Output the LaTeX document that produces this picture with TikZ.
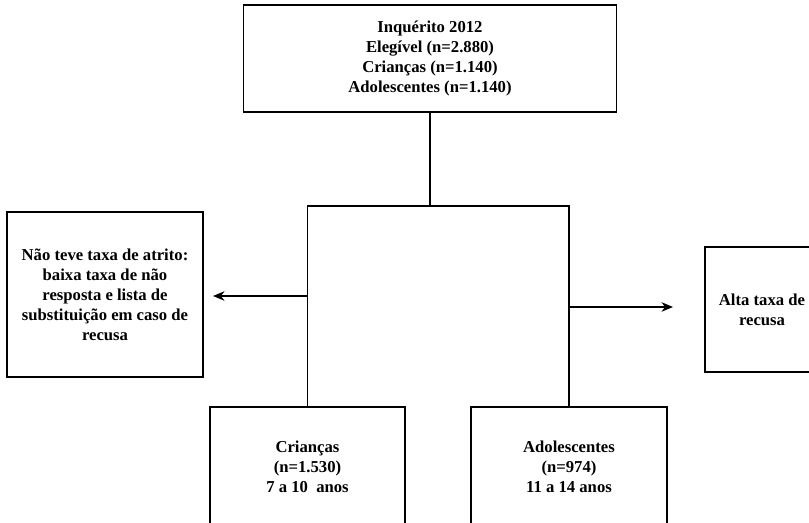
\documentclass[tikz,border=0pt]{standalone}
\usepackage{fontspec}
\setmainfont{Liberation Serif}
\usepackage{tikz}
\usetikzlibrary{arrows.meta}

\begin{document}
\begin{tikzpicture}[x=0.75pt,y=-0.75pt]
            \useasboundingbox[fill=white] (0,0) rectangle (809,523);

            \begin{scope}[every node/.style={draw,rectangle,line width=1.4pt,align=center,inner sep=0pt,
                          font=\fontsize{12.5}{15}\selectfont\bfseries}]
                \node (inq) [minimum width=279.75pt,minimum height=80.25pt] at (430,58.5)
                    {Inquérito 2012\\Elegível (n=2.880)\\Crianças (n=1.140)\\Adolescentes (n=1.140)};
                \node (semAtrito) [minimum width=147pt,minimum height=123.75pt] at (105,294.5)
                    {Não teve taxa de atrito:\\baixa taxa de não\\resposta e lista de\\substituição em caso de\\recusa};
                \node (recusa) [minimum width=85.5pt,minimum height=93.75pt] at (762,309.5)
                    {Alta taxa de\\recusa};
                \node (criancas) [minimum width=146.25pt,minimum height=90pt] at (307.5,467)
                    {Crianças\\(n=1.530)\\7 a 10\ \ anos};
                \node (adolesc) [minimum width=147pt,minimum height=90pt] at (569,467)
                    {Adolescentes\\(n=974)\\11 a 14 anos};
            \end{scope}

            \coordinate (hub) at (430,206);
            \coordinate (hubL) at (307.5,206);
            \coordinate (hubR) at (569,206);
            \coordinate (arrL) at (307.5,296);
            \coordinate (arrLend) at (213,296);
            \coordinate (arrR) at (569,307);
            \coordinate (arrRend) at (673,307);

            \begin{scope}[>={Stealth[black,length=8.5pt,width=7pt,inset=2.5pt]},
                          every edge/.style={draw=black,line width=1.4pt}]
                \path (inq) edge (hub);
                \path [line cap=rect] (hubL) edge (hubR);
                \path (hubL) edge (criancas);
                \path (hubR) edge (adolesc);
                \path [->] (arrL) edge (arrLend);
                \path [->] (arrR) edge (arrRend);
            \end{scope}
        \end{tikzpicture}
\end{document}
